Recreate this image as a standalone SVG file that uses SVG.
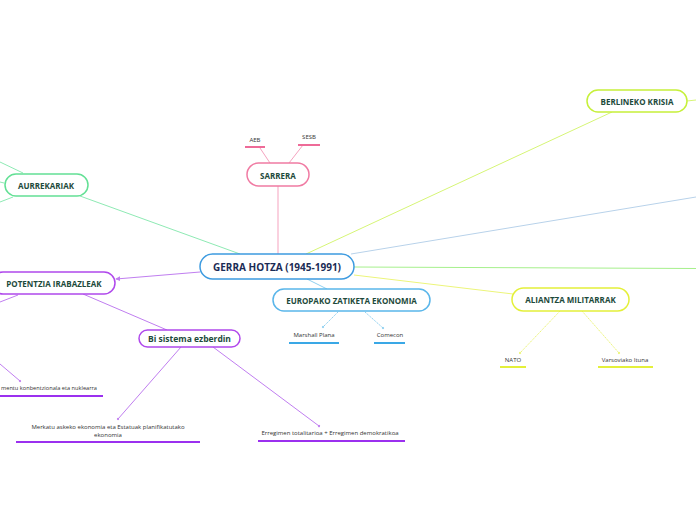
<svg xmlns="http://www.w3.org/2000/svg" width="696" height="520" viewBox="0 0 696 520">
<style>
.n{font-family:"Open Sans","Liberation Sans",sans-serif;font-weight:bold;font-size:8px;fill:#1d4a3b;text-anchor:middle;dominant-baseline:central}
.c{font-family:"Open Sans","Liberation Sans",sans-serif;font-weight:bold;font-size:10px;fill:#1b2b55;text-anchor:middle;dominant-baseline:central}
.s{font-family:"Open Sans","Liberation Sans",sans-serif;font-size:6px;fill:#333;text-anchor:middle}
.box{fill:#fff;stroke-width:1.5}
.ln{fill:none;stroke-width:1}
.ul{stroke-width:2}
</style>
<defs>
<marker id="dot" viewBox="0 0 4 4" refX="2" refY="2" markerWidth="3" markerHeight="3" orient="auto"><circle cx="2" cy="2" r="1.5" fill="context-stroke"/></marker>
<marker id="arr" viewBox="0 0 6 6" refX="5" refY="3" markerWidth="5" markerHeight="5" orient="auto"><path d="M0,0 L6,3 L0,6 z" fill="#c07ef0"/></marker>
</defs>
<g id="connectors">
<line class="ln" x1="278" y1="254" x2="278" y2="186" stroke="#f5a3bf"/>
<line class="ln" x1="270" y1="163" x2="260" y2="148" stroke="#f5a3bf"/>
<line class="ln" x1="289" y1="163" x2="303" y2="145" stroke="#f5a3bf"/>
<line class="ln" x1="240" y1="254" x2="80" y2="196" stroke="#8eeab4"/>
<line class="ln" x1="0" y1="162" x2="23" y2="173" stroke="#8eeab4"/>
<line class="ln" x1="0" y1="202" x2="13" y2="197" stroke="#8eeab4"/>
<line class="ln" x1="0" y1="182" x2="4" y2="183" stroke="#8eeab4"/>
<line class="ln" x1="200" y1="272" x2="116" y2="279" stroke="#c07ef0" marker-end="url(#arr)"/>
<line class="ln" x1="83" y1="294" x2="167" y2="330" stroke="#c07ef0"/>
<line class="ln" x1="18" y1="295" x2="0" y2="302" stroke="#c07ef0"/>
<line class="ln" x1="0" y1="364" x2="20" y2="381" stroke="#c07ef0" marker-end="url(#dot)"/>
<line class="ln" x1="181" y1="347" x2="118" y2="419" stroke="#c07ef0" marker-end="url(#dot)"/>
<line class="ln" x1="213" y1="347" x2="319" y2="426" stroke="#c07ef0" marker-end="url(#dot)"/>
<line class="ln" x1="307" y1="279" x2="327" y2="289" stroke="#8fd0f0"/>
<line class="ln" x1="338" y1="312" x2="323" y2="327" stroke="#8fd0f0" stroke-dasharray="1.5,0.8" marker-end="url(#dot)"/>
<line class="ln" x1="365" y1="312" x2="383" y2="328" stroke="#8fd0f0" stroke-dasharray="1.5,0.8" marker-end="url(#dot)"/>
<line class="ln" x1="354" y1="275" x2="513" y2="294" stroke="#ecf57a"/>
<line class="ln" x1="560" y1="311" x2="520" y2="353" stroke="#ecf57a" stroke-dasharray="1.5,0.8" marker-end="url(#dot)"/>
<line class="ln" x1="582" y1="311" x2="619" y2="353" stroke="#ecf57a" stroke-dasharray="1.5,0.8" marker-end="url(#dot)"/>
<line class="ln" x1="306" y1="254" x2="612" y2="112" stroke="#d6f576"/>
<line class="ln" x1="687" y1="101" x2="696" y2="100" stroke="#d6f576"/>
<line class="ln" x1="351" y1="254" x2="696" y2="197" stroke="#b8d2ea"/>
<line class="ln" x1="354" y1="267" x2="696" y2="268.5" stroke="#a6f08c" stroke-width="1.3"/>
</g>
<g id="central">
<rect class="box" x="200" y="254" width="154" height="25" rx="12.5" stroke="#3d9be0"/>
<text class="c" x="277" y="267">GERRA HOTZA (1945-1991)</text>
</g>
<g id="sarrera">
<rect class="box" x="247" y="163" width="62" height="23" rx="11.5" stroke="#f07ba3"/>
<text class="n" x="278" y="175">SARRERA</text>
</g>
<g id="aeb">
<text class="s" x="255" y="142">AEB</text>
<line class="ul" x1="245" y1="147" x2="265" y2="147" stroke="#ee6b98"/>
</g>
<g id="sesb">
<text class="s" x="309" y="139">SESB</text>
<line class="ul" x1="298" y1="145" x2="320" y2="145" stroke="#ee6b98"/>
</g>
<g id="aurrekariak">
<rect class="box" x="5" y="174" width="83" height="22" rx="11" stroke="#63e095"/>
<text class="n" x="46" y="185.5">AURREKARIAK</text>
</g>
<g id="potentzia">
<rect class="box" x="-8" y="272" width="123" height="22" rx="11" stroke="#b048ec"/>
<text class="n" x="54" y="283.5">POTENTZIA IRABAZLEAK</text>
</g>
<g id="armamentu">
<text class="s" x="1" y="390" style="text-anchor:start" textLength="96" lengthAdjust="spacingAndGlyphs">mentu konbentzionala eta nuklearra</text>
<line class="ul" x1="0" y1="396" x2="103" y2="396" stroke="#9b30ef"/>
</g>
<g id="bisistema">
<rect class="box" x="139" y="330" width="101" height="17" rx="8.5" stroke="#b048ec"/>
<text class="n" x="189.5" y="338.5" style="font-size:8.5px">Bi sistema ezberdin</text>
</g>
<g id="merkatu">
<text class="s" x="108" y="429">Merkatu askeko ekonomia eta Estatuak planifikatutako</text>
<text class="s" x="108" y="437">ekonomia</text>
<line class="ul" x1="16" y1="442" x2="200" y2="442" stroke="#9b30ef"/>
</g>
<g id="erregimen">
<text class="s" x="330" y="435">Erregimen totalitarioa + Erregimen demokratikoa</text>
<line class="ul" x1="258" y1="441" x2="405" y2="441" stroke="#9b30ef"/>
</g>
<g id="europako">
<rect class="box" x="273" y="289" width="157" height="22" rx="11" stroke="#5ab6ea"/>
<text class="n" x="351.5" y="300">EUROPAKO ZATIKETA EKONOMIA</text>
</g>
<g id="marshall">
<text class="s" x="314" y="337">Marshall Plana</text>
<line class="ul" x1="289" y1="343" x2="339" y2="343" stroke="#3aa8e6"/>
</g>
<g id="comecon">
<text class="s" x="390" y="337">Comecon</text>
<line class="ul" x1="374" y1="343" x2="405" y2="343" stroke="#3aa8e6"/>
</g>
<g id="aliantza">
<rect class="box" x="512" y="288" width="117" height="23" rx="11.5" stroke="#e4f03a"/>
<text class="n" x="570.5" y="299.5">ALIANTZA MILITARRAK</text>
</g>
<g id="nato">
<text class="s" x="513" y="362">NATO</text>
<line class="ul" x1="500" y1="367" x2="526" y2="367" stroke="#e4f03a"/>
</g>
<g id="varsoviako">
<text class="s" x="625" y="362">Varsoviako Ituna</text>
<line class="ul" x1="598" y1="367" x2="653" y2="367" stroke="#e4f03a"/>
</g>
<g id="berlineko">
<rect class="box" x="587" y="90" width="100" height="22" rx="11" stroke="#c6f03a"/>
<text class="n" x="637" y="101">BERLINEKO KRISIA</text>
</g>
</svg>
